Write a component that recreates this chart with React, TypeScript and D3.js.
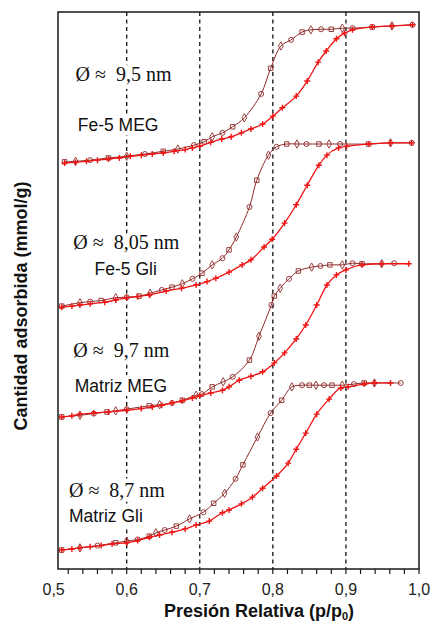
import React from 'react';
import * as d3 from 'd3';

// relative pressure (p/p0) vs adsorbed amount (arbitrary stacked units)
const fe5MegAds: [number, number][] = [
  [0.515, 72.9], [0.53, 73.0], [0.545, 73.2], [0.56, 73.4], [0.575, 73.6], [0.59, 73.8],
  [0.605, 74.1], [0.62, 74.3], [0.635, 74.5], [0.65, 74.7], [0.665, 75.0], [0.68, 75.3],
  [0.69, 75.6], [0.70, 75.9], [0.715, 76.6], [0.73, 77.2], [0.743, 77.6], [0.757, 78.3],
  [0.77, 79.0], [0.786, 79.9], [0.80, 81.3], [0.813, 82.8], [0.832, 84.9], [0.847, 87.6],
  [0.862, 91.0], [0.873, 93.0], [0.887, 95.2], [0.898, 96.2], [0.909, 96.8], [0.936, 97.3],
  [0.963, 97.5], [0.991, 97.7],
];
const fe5MegDes: [number, number][] = [
  [0.991, 97.7], [0.963, 97.5], [0.936, 97.3], [0.909, 97.1], [0.895, 97.1], [0.88, 96.9],
  [0.866, 96.9], [0.852, 96.8], [0.84, 96.4], [0.825, 95.0], [0.811, 93.9], [0.797, 89.9],
  [0.784, 85.3], [0.761, 81.0], [0.745, 79.4], [0.731, 78.3], [0.717, 77.6], [0.706, 76.7],
  [0.692, 76.1], [0.67, 75.4], [0.65, 75.0], [0.625, 74.5], [0.60, 74.1], [0.575, 73.8],
  [0.55, 73.4], [0.53, 73.2], [0.515, 73.1],
];

const fe5GliAds: [number, number][] = [
  [0.511, 47.0], [0.525, 47.2], [0.536, 47.4], [0.55, 47.6], [0.57, 47.9], [0.585, 48.3],
  [0.60, 48.7], [0.615, 48.9], [0.631, 49.2], [0.654, 49.9], [0.675, 50.4], [0.695, 51.0],
  [0.71, 51.6], [0.722, 52.2], [0.74, 53.3], [0.758, 54.6], [0.77, 55.5], [0.788, 57.8],
  [0.799, 59.2], [0.816, 62.1], [0.832, 65.4], [0.847, 68.9], [0.863, 72.5], [0.874, 74.3],
  [0.89, 75.6], [0.901, 75.9], [0.931, 76.3], [0.961, 76.5], [0.99, 76.5],
];
const fe5GliDes: [number, number][] = [
  [0.99, 76.5], [0.961, 76.5], [0.931, 76.3], [0.892, 76.3], [0.877, 76.3], [0.863, 76.3],
  [0.846, 76.3], [0.833, 76.3], [0.819, 76.3], [0.805, 75.8], [0.794, 74.3], [0.778, 69.8],
  [0.768, 65.0], [0.75, 59.6], [0.74, 57.3], [0.731, 55.8], [0.717, 54.6], [0.703, 53.1],
  [0.69, 52.1], [0.676, 51.2], [0.662, 50.6], [0.648, 50.1], [0.632, 49.5], [0.617, 49.0],
  [0.60, 48.8], [0.585, 48.7], [0.565, 48.2], [0.55, 48.0], [0.536, 47.8], [0.511, 47.2],
];

const matMegAds: [number, number][] = [
  [0.511, 27.3], [0.525, 27.5], [0.536, 27.8], [0.555, 28.0], [0.575, 28.2], [0.60, 28.5],
  [0.62, 28.8], [0.635, 29.1], [0.648, 29.4], [0.662, 29.8], [0.676, 30.2], [0.69, 30.7],
  [0.70, 31.1], [0.715, 31.6], [0.731, 32.1], [0.74, 32.7], [0.754, 33.9], [0.77, 34.6],
  [0.786, 35.4], [0.802, 37.0], [0.816, 38.8], [0.832, 41.3], [0.845, 43.8], [0.86, 47.4],
  [0.874, 51.0], [0.887, 52.8], [0.90, 53.7], [0.922, 54.6], [0.949, 54.8], [0.986, 54.8],
];
const matMegDes: [number, number][] = [
  [0.966, 54.9], [0.949, 54.8], [0.922, 54.8], [0.909, 54.9], [0.895, 54.6], [0.878, 54.6],
  [0.865, 54.4], [0.853, 54.2], [0.835, 53.5], [0.822, 52.1], [0.81, 50.4], [0.802, 49.0],
  [0.798, 47.4], [0.781, 41.8], [0.768, 37.5], [0.745, 34.5], [0.732, 33.6], [0.717, 32.7],
  [0.703, 31.4], [0.695, 31.2], [0.676, 30.3], [0.662, 29.8], [0.645, 29.5], [0.631, 29.3],
  [0.60, 28.7], [0.585, 28.4], [0.573, 28.2], [0.555, 27.9], [0.536, 27.6], [0.511, 27.3],
];

const matGliAds: [number, number][] = [
  [0.511, 3.4], [0.525, 3.6], [0.536, 3.8], [0.55, 4.0], [0.565, 4.2], [0.58, 4.5],
  [0.60, 4.7], [0.615, 5.1], [0.631, 5.7], [0.645, 6.1], [0.662, 6.6], [0.68, 7.2],
  [0.695, 7.9], [0.713, 8.6], [0.731, 10.1], [0.74, 10.6], [0.757, 11.7], [0.772, 12.9],
  [0.786, 14.5], [0.805, 16.7], [0.821, 19.0], [0.832, 21.5], [0.845, 24.4], [0.86, 27.8],
  [0.877, 30.5], [0.893, 32.5], [0.903, 32.7], [0.925, 33.2], [0.939, 33.4], [0.961, 33.4],
];
const matGliDes: [number, number][] = [
  [0.975, 33.4], [0.939, 33.4], [0.925, 33.4], [0.911, 33.2], [0.895, 33.0], [0.881, 33.0],
  [0.87, 33.0], [0.859, 33.0], [0.85, 33.0], [0.84, 33.0], [0.826, 32.7], [0.812, 30.3],
  [0.797, 28.0], [0.779, 23.7], [0.759, 18.7], [0.749, 16.2], [0.734, 13.6], [0.719, 11.8],
  [0.705, 10.2], [0.686, 9.0], [0.668, 7.7], [0.652, 7.0], [0.64, 6.5], [0.631, 5.9],
  [0.615, 5.3], [0.60, 5.0], [0.585, 4.7], [0.56, 4.2], [0.536, 3.8], [0.511, 3.4],
];

const isotherms = [
  { ads: fe5MegAds, des: fe5MegDes },
  { ads: fe5GliAds, des: fe5GliDes },
  { ads: matMegAds, des: matMegDes },
  { ads: matGliAds, des: matGliDes },
];

const diameterLabels = ['Ø ≈  9,5 nm', 'Ø ≈  8,05 nm', 'Ø ≈  9,7 nm', 'Ø ≈  8,7 nm'];
const sampleLabels = ['Fe-5 MEG', 'Fe-5 Gli', 'Matriz MEG', 'Matriz Gli'];
// label anchor positions in data units: [p, amount]
const diameterPos: [number, number][] = [[0.53, 87.7], [0.527, 57.4], [0.527, 38.1], [0.521, 12.9]];
const samplePos: [number, number][] = [[0.533, 78.7], [0.556, 52.8], [0.529, 31.8], [0.521, 8.4]];

const majorTicks = [0.5, 0.6, 0.7, 0.8, 0.9, 1.0];
const minorTicks = d3.range(0.52, 1.0001, 0.02);
const dashedAt = [0.6, 0.7, 0.8, 0.9];

const W = 436;
const H = 621;
const left = 58, right = 419, top = 12, bottom = 569;

const adsColor = '#f01414';
const desColor = '#8e2b2b';
const shapes = [d3.symbolCircle, d3.symbolDiamond, d3.symbolSquare];

const App = () => {
  const x = d3.scaleLinear().domain([0.506, 1.0]).range([left, right]);
  const y = d3.scaleLinear().domain([0, 100]).range([bottom, top]);
  const line = d3
    .line<[number, number]>()
    .x((d) => x(d[0]))
    .y((d) => y(d[1]))
    .curve(d3.curveMonotoneX);
  const lineDes = d3
    .line<[number, number]>()
    .x((d) => x(d[0]))
    .y((d) => y(d[1]))
    .curve(d3.curveCatmullRom);
  const fmt = (v: number) => v.toFixed(1).replace('.', ',');

  return (
    <div style={{ position: 'absolute', left: 0, top: 0 }}>
      <svg width={W} height={H} style={{ display: 'block', background: '#fff' }}>
        {dashedAt.map((v) => (
          <line
            key={v}
            x1={x(v)}
            x2={x(v)}
            y1={top}
            y2={bottom}
            stroke="#111"
            strokeWidth={1.3}
            strokeDasharray="4,3.5"
          />
        ))}

        {diameterLabels.map((t, i) => (
          <text
            key={t}
            x={x(diameterPos[i][0])}
            y={y(diameterPos[i][1])}
            fontFamily="'Liberation Serif', 'Times New Roman', serif"
            fontSize={20}
            fill="#111"
            stroke="#fff"
            strokeWidth={9}
            strokeLinejoin="round"
            paintOrder="stroke"
            style={{ whiteSpace: 'pre' }}
          >
            {t}
          </text>
        ))}
        {sampleLabels.map((t, i) => (
          <text
            key={t}
            x={x(samplePos[i][0])}
            y={y(samplePos[i][1])}
            fontFamily="'Liberation Sans', Arial, sans-serif"
            fontSize={17.5}
            fill="#111"
            stroke="#fff"
            strokeWidth={9}
            strokeLinejoin="round"
            paintOrder="stroke"
          >
            {t}
          </text>
        ))}

        {isotherms.map((iso, i) => (
          <g key={i}>
            <path d={lineDes(iso.des) || ''} fill="none" stroke={desColor} strokeWidth={1} />
            {iso.des.map((d, j) => (
              <path
                key={j}
                transform={`translate(${x(d[0])},${y(d[1])})`}
                d={d3.symbol().type(shapes[j % 3]).size(20)() || ''}
                fill="none"
                stroke={desColor}
                strokeWidth={0.9}
              />
            ))}
            <path d={line(iso.ads) || ''} fill="none" stroke={adsColor} strokeWidth={1.3} />
            {iso.ads.map((d, j) => (
              <path
                key={j}
                transform={`translate(${x(d[0])},${y(d[1])})`}
                d="M-3,0H3M0,-3V3"
                stroke={adsColor}
                strokeWidth={1.4}
              />
            ))}
          </g>
        ))}

        <rect
          x={left}
          y={top}
          width={right - left}
          height={bottom - top}
          fill="none"
          stroke="#1a1a1a"
          strokeWidth={1.5}
        />

        {minorTicks.map((v) => (
          <line key={v} x1={x(v)} x2={x(v)} y1={bottom} y2={bottom + 5} stroke="#1a1a1a" strokeWidth={1.2} />
        ))}
        {majorTicks.map((v) => (
          <text
            key={v}
            x={x(v)}
            y={595}
            textAnchor="middle"
            fontFamily="'Liberation Sans', Arial, sans-serif"
            fontSize={16}
            fill="#222"
          >
            {fmt(v)}
          </text>
        ))}

        <text
          x={259}
          y={617}
          textAnchor="middle"
          fontFamily="'Liberation Sans', Arial, sans-serif"
          fontSize={18}
          fontWeight="bold"
          fill="#111"
        >
          Presión Relativa (p/p<tspan fontSize={11} dy={3}>0</tspan>
          <tspan dy={-3}>)</tspan>
        </text>
        <text
          transform={`translate(27,306) rotate(-90)`}
          textAnchor="middle"
          fontFamily="'Liberation Sans', Arial, sans-serif"
          fontSize={18}
          fontWeight="bold"
          fill="#111"
        >
          Cantidad adsorbida (mmol/g)
        </text>
      </svg>
    </div>
  );
};

export default App;
